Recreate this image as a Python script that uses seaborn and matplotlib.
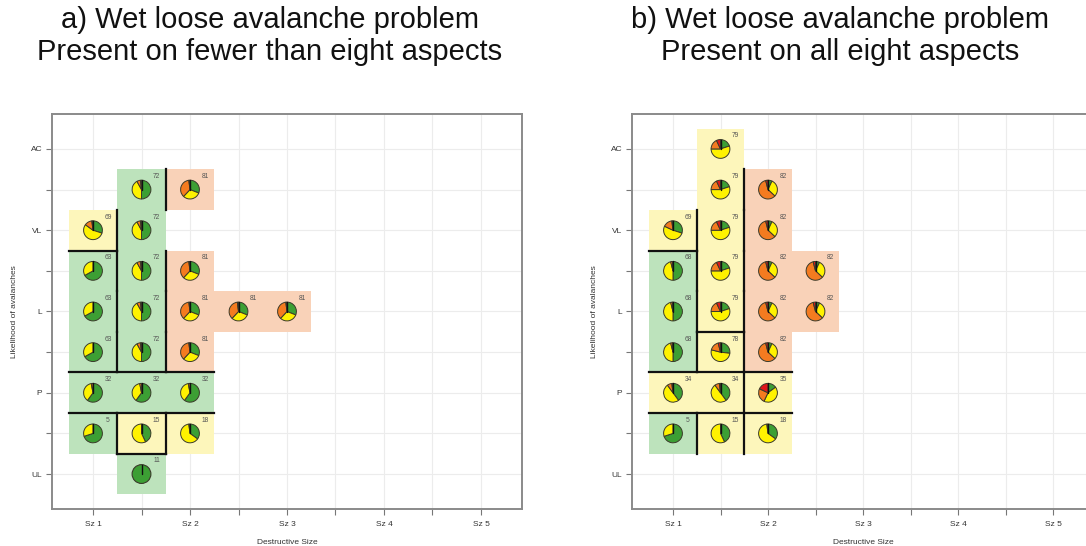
import matplotlib
matplotlib.use("Agg")
import matplotlib.pyplot as plt
import matplotlib.transforms as mtransforms
from matplotlib.patches import Wedge, Circle, Rectangle
import seaborn as sns

# ---------------------------------------------------------------
# Panel a: wet loose problem present on fewer than eight aspects
# cell positions (destructive size, likelihood) and cluster id
a_size = [1, 1, 1, 1, 1, 1,
          1.5, 1.5, 1.5, 1.5, 1.5, 1.5, 1.5, 1.5,
          2, 2, 2, 2, 2, 2,
          2.5, 3]
a_like = [4, 3.5, 3, 2.5, 2, 1.5,
          4.5, 4, 3.5, 3, 2.5, 2, 1.5, 1,
          4.5, 3.5, 3, 2.5, 2, 1.5,
          3, 3]
a_cluster = [69, 63, 63, 63, 32, 5,
             72, 72, 72, 72, 72, 32, 15, 11,
             81, 81, 81, 81, 32, 18,
             81, 81]
# danger level shares per cluster (low, moderate, considerable, high)
a_ids = [69, 63, 72, 81, 32, 5, 15, 18, 11]
a_low = [0.30, 0.67, 0.50, 0.31, 0.60, 0.70, 0.43, 0.35, 1.00]
a_moderate = [0.55, 0.33, 0.42, 0.31, 0.37, 0.30, 0.57, 0.63, 0.00]
a_considerable = [0.13, 0.00, 0.06, 0.36, 0.03, 0.00, 0.00, 0.02, 0.00]
a_high = [0.02, 0.00, 0.02, 0.02, 0.00, 0.00, 0.00, 0.00, 0.00]

# Panel b: wet loose problem present on all eight aspects
b_size = [1, 1, 1, 1, 1, 1,
          1.5, 1.5, 1.5, 1.5, 1.5, 1.5, 1.5, 1.5,
          2, 2, 2, 2, 2, 2, 2,
          2.5, 2.5]
b_like = [4, 3.5, 3, 2.5, 2, 1.5,
          5, 4.5, 4, 3.5, 3, 2.5, 2, 1.5,
          4.5, 4, 3.5, 3, 2.5, 2, 1.5,
          3.5, 3]
b_cluster = [69, 68, 68, 68, 34, 5,
             79, 79, 79, 79, 79, 78, 34, 15,
             82, 82, 82, 82, 82, 35, 18,
             82, 82]
b_ids = [69, 68, 79, 78, 82, 34, 35, 5, 15, 18]
b_low = [0.30, 0.50, 0.20, 0.27, 0.07, 0.40, 0.15, 0.70, 0.43, 0.35]
b_moderate = [0.52, 0.46, 0.55, 0.52, 0.30, 0.50, 0.42, 0.30, 0.57, 0.63]
b_considerable = [0.16, 0.03, 0.18, 0.17, 0.59, 0.08, 0.25, 0.00, 0.00, 0.02]
b_high = [0.02, 0.01, 0.07, 0.04, 0.04, 0.02, 0.18, 0.00, 0.00, 0.00]

size_ticks = [1, 1.5, 2, 2.5, 3, 3.5, 4, 4.5, 5]
size_labels = ["Sz 1", "", "Sz 2", "", "Sz 3", "", "Sz 4", "", "Sz 5"]
like_ticks = [1, 1.5, 2, 2.5, 3, 3.5, 4, 4.5, 5]
like_labels = ["UL", "", "P", "", "L", "", "VL", "", "AC"]

titles = [("a) Wet loose avalanche problem", "Present on fewer than eight aspects"),
          ("b) Wet loose avalanche problem", "Present on all eight aspects")]

# ---------------------------------------------------------------
slice_colors = ["#3c9f34", "#fff200", "#f47b20", "#e0161b"]
cell_colors = ["#bde3bc", "#fdf6bb", "#f9d2b8"]

sns.set_theme(style="whitegrid", rc={
    "axes.edgecolor": "#8a8a8a",
    "axes.linewidth": 1.4,
    "grid.color": "#ececec",
    "grid.linewidth": 0.8,
    "xtick.bottom": True,
    "ytick.left": True,
    "xtick.major.size": 4.0,
    "ytick.major.size": 4.0,
    "xtick.major.width": 0.8,
    "ytick.major.width": 0.8,
    "xtick.color": "#777777",
    "ytick.color": "#777777",
    "xtick.labelcolor": "#333333",
    "ytick.labelcolor": "#333333",
})
plt.rcParams["font.family"] = ["Liberation Sans", "DejaVu Sans"]

W, H = 1086, 546
fig = plt.figure(figsize=(W / 100, H / 100), dpi=100)

panels = [
    dict(rect=(52, 114, 470, 395), xlim=(1 - 41 / 97, 5 + 41 / 97),
         size=a_size, like=a_like, cluster=a_cluster, ids=a_ids,
         shares=[a_low, a_moderate, a_considerable, a_high], title_x=270),
    dict(rect=(632, 114, 462, 395), xlim=(1 - 41 / 95, 5 + 41 / 95),
         size=b_size, like=b_like, cluster=b_cluster, ids=b_ids,
         shares=[b_low, b_moderate, b_considerable, b_high], title_x=840),
]

pie_r = 0.094  # inches

for p, title in zip(panels, titles):
    x0, top, w, h = p["rect"]
    ax = fig.add_axes([x0 / W, (H - top - h) / H, w / W, h / H])
    ax.set_xlim(*p["xlim"])
    ax.set_ylim(0.57, 5.43)
    ax.set_axisbelow(True)
    ax.set_xticks(size_ticks)
    ax.set_xticklabels(size_labels, fontsize=6)
    ax.set_yticks(like_ticks)
    ax.set_yticklabels(like_labels, fontsize=6)
    ax.tick_params(axis="x", pad=4.5)
    ax.tick_params(axis="y", pad=3)
    ax.set_xlabel("Destructive Size", fontsize=6, color="#333333", labelpad=8)
    ax.set_ylabel("Likelihood of avalanches", fontsize=6, color="#333333", labelpad=9)
    for sp in ax.spines.values():
        sp.set_visible(True)

    shares = {cid: [s[i] for s in p["shares"]] for i, cid in enumerate(p["ids"])}
    cells = {(s, l): c for s, l, c in zip(p["size"], p["like"], p["cluster"])}

    # cell backgrounds coloured by the dominant danger level
    for (s, l), c in cells.items():
        mix = shares[c][:3]
        col = cell_colors[mix.index(max(mix))]
        ax.add_patch(Rectangle((s - 0.25, l - 0.25), 0.5, 0.5, facecolor=col,
                               edgecolor="none", zorder=1))

    # borders between neighbouring cells of different clusters
    for (s, l), c in cells.items():
        right = cells.get((s + 0.5, l))
        if right is not None and right != c:
            ax.plot([s + 0.25, s + 0.25], [l - 0.25, l + 0.25], color="#111111",
                    lw=1.6, solid_capstyle="projecting", zorder=3)
        up = cells.get((s, l + 0.5))
        if up is not None and up != c:
            ax.plot([s - 0.25, s + 0.25], [l + 0.25, l + 0.25], color="#111111",
                    lw=1.6, solid_capstyle="projecting", zorder=3)

    # pies: clockwise from twelve o'clock
    for (s, l), c in cells.items():
        trans = fig.dpi_scale_trans + mtransforms.ScaledTranslation(s, l, ax.transData)
        fr = shares[c]
        total = sum(fr)
        cum = 0.0
        for f, col in zip(fr, slice_colors):
            if f <= 0:
                continue
            f = f / total
            if f >= 0.999:
                ax.add_patch(Circle((0, 0), pie_r, facecolor=col, edgecolor="#3a3a2a",
                                    lw=0.8, transform=trans, zorder=4))
            else:
                t1 = 90 - 360 * (cum + f)
                t2 = 90 - 360 * cum
                ax.add_patch(Wedge((0, 0), pie_r, t1, t2, facecolor=col,
                                   edgecolor="#3a3a2a", lw=0.7, transform=trans, zorder=4))
            cum += f
        ax.plot([0, 0], [0, pie_r], color="#111111", lw=1.0, transform=trans, zorder=5)
        ax.annotate(str(c), (s, l), xytext=(10.8, 9.4), textcoords="offset points",
                    ha="center", va="center", fontsize=4.8, color="#555555", zorder=6)

    fig.text(p["title_x"] / W, 1 - 20 / H, title[0], ha="center", va="center",
             fontsize=21, color="#111111")
    fig.text(p["title_x"] / W, 1 - 52 / H, title[1], ha="center", va="center",
             fontsize=21, color="#111111")

fig.savefig("out.png", dpi=100)
